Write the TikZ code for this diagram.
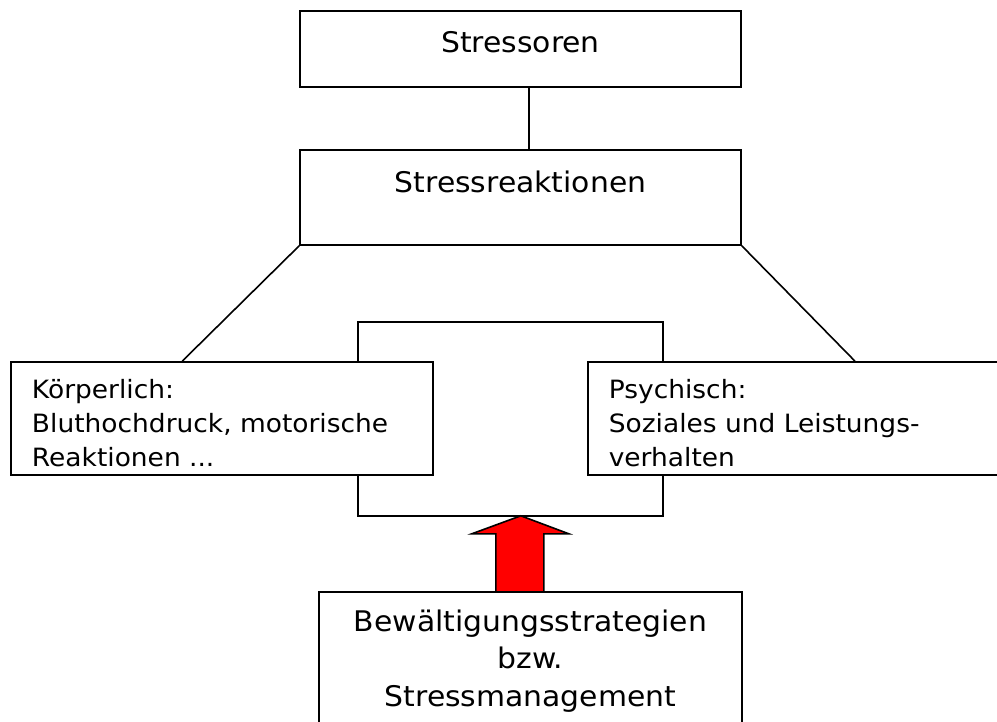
\documentclass[tikz,border=0pt]{standalone}
\usepackage{fontspec}
\setmainfont{DejaVu Sans}[FakeStretch=1.05]
\usetikzlibrary{positioning, calc}

\begin{document}
\begin{tikzpicture}[x=0.5pt, y=-0.5pt,
box/.style={rectangle, draw=black, fill=white, thick, inner sep=0pt, font=\fontsize{14.2pt}{18.75pt}\selectfont},
textbox/.style={rectangle, draw=black, fill=white, thick, align=left, inner xsep=10.5pt, minimum height=56.5pt, font=\fontsize{12.6pt}{17pt}\selectfont},
line/.style={thick},
]
\useasboundingbox (0,0) rectangle (997,722);
\clip (0,0) rectangle (997,722);

%Nodes
\node [box, minimum width=220.5pt, minimum height=38pt, text depth=7pt] (stressoren) at (520.5,49) {Stressoren};
\node [box, minimum width=220.5pt, minimum height=47.5pt, text depth=15.5pt] (reakt) at (520.5,197.5) {Stressreaktionen};
\node [textbox, text width=190pt] (koerper) at (222,418.5) {\rule{0pt}{14.5pt}Körperlich:\\Bluthochdruck, motorische\\Reaktionen ...};
\node [textbox, text width=196pt, anchor=west] (psyche) at (587,418.5) {\rule{0pt}{14.5pt}Psychisch:\\Soziales und Leistungs-\\verhalten};
\node [box, align=center, anchor=north, minimum width=211.5pt, inner ysep=9pt] (mgmt) at (530.5,591) {Bewältigungsstrategien\\bzw.\\Stressmanagement};

% Paths
\draw [line] ($(stressoren.south)+(8.5,0)$) -- ($(reakt.north)+(8.5,0)$);
\draw [line] (reakt.south west) -- ($(koerper.north west)+(172,0)$);
\draw [line] (reakt.south east) -- ($(psyche.north west)+(268,0)$);
\draw [line] ($(koerper.north east)+(-76,0)$) -- ++(0,-39) -| ($(psyche.north west)+(76,0)$);
\draw [line] ($(koerper.south east)+(-76,0)$) -- ++(0,40) -| ($(psyche.south west)+(76,0)$);

% red arrow
\coordinate (tip) at ($(koerper.south east)+(87,40)$);
\draw [line, fill=red] (tip) -- ++(48,18) -- ++(-25,0) -- ++(0,58) -- ++(-48,0) -- ++(0,-58) -- ++(-24,0) -- cycle;
\end{tikzpicture}
\end{document}
